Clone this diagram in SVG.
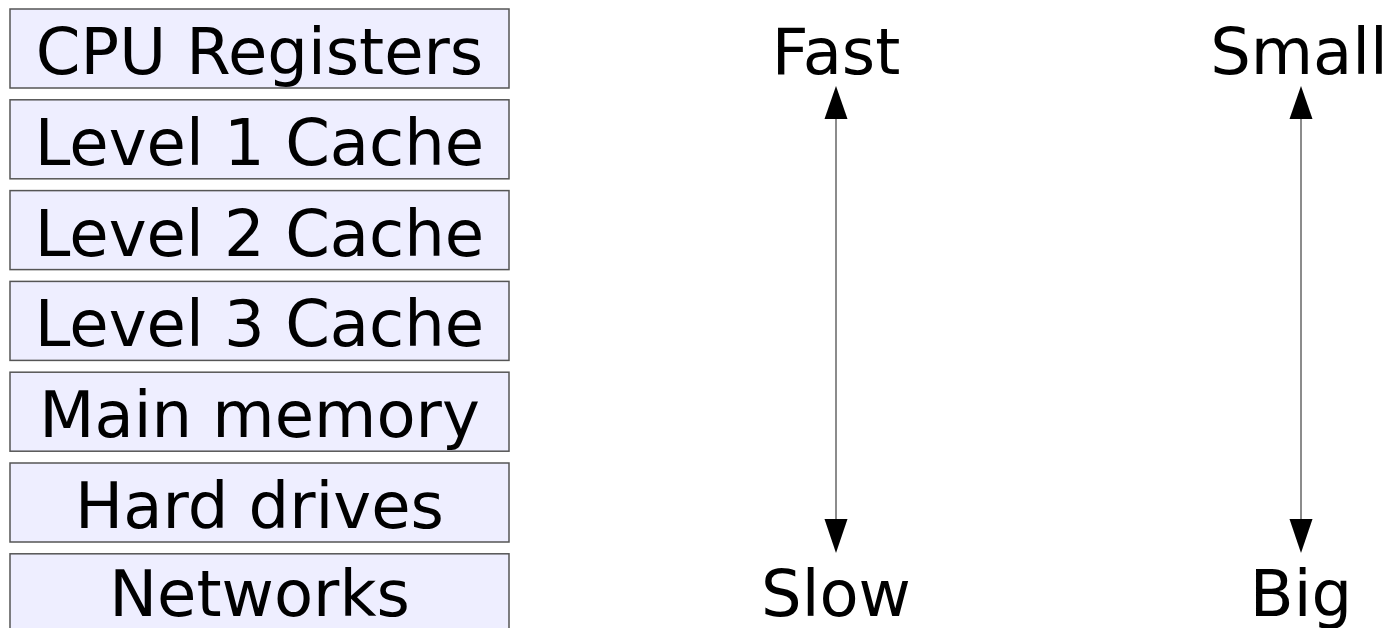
<svg xmlns="http://www.w3.org/2000/svg" width="1390" height="628" viewBox="0 0 1390 628">
  <style>
    .box { fill: #eeeeff; stroke: #555555; stroke-width: 1.5; }
    .lbl { font-family: "DejaVu Sans", Verdana, sans-serif; font-size: 64px; fill: #000000; text-anchor: middle; }
    .axis { stroke: #666666; stroke-width: 1.5; fill: none; }
    .head { fill: #000000; }
  </style>

  <!-- memory hierarchy, fastest level on top -->
  <g id="cpu-registers">
    <rect class="box" x="10" y="9" width="499" height="79"/>
    <text class="lbl" x="259.5" y="74">CPU Registers</text>
  </g>
  <g id="level1-cache">
    <rect class="box" x="10" y="99.8" width="499" height="79"/>
    <text class="lbl" x="259.5" y="164.8">Level 1 Cache</text>
  </g>
  <g id="level2-cache">
    <rect class="box" x="10" y="190.6" width="499" height="79"/>
    <text class="lbl" x="259.5" y="255.6">Level 2 Cache</text>
  </g>
  <g id="level3-cache">
    <rect class="box" x="10" y="281.4" width="499" height="79"/>
    <text class="lbl" x="259.5" y="346.4">Level 3 Cache</text>
  </g>
  <g id="main-memory">
    <rect class="box" x="10" y="372.2" width="499" height="79"/>
    <text class="lbl" x="259.5" y="437.2">Main memory</text>
  </g>
  <g id="hard-drives">
    <rect class="box" x="10" y="463" width="499" height="79"/>
    <text class="lbl" x="259.5" y="528">Hard drives</text>
  </g>
  <g id="networks">
    <rect class="box" x="10" y="553.8" width="499" height="79"/>
    <text class="lbl" x="259.5" y="616">Networks</text>
  </g>

  <!-- axis end labels -->
  <g id="speed-fast"><text class="lbl" x="836" y="74">Fast</text></g>
  <g id="speed-slow"><text class="lbl" x="836" y="616">Slow</text></g>
  <g id="size-small"><text class="lbl" x="1299" y="74">Small</text></g>
  <g id="size-big"><text class="lbl" x="1301" y="616">Big</text></g>

  <!-- double-headed axes -->
  <g id="connectors">
    <line class="axis" x1="836" y1="119" x2="836" y2="519"/>
    <line class="axis" x1="1301" y1="119" x2="1301" y2="519"/>
    <polygon class="head" points="836,86 824.5,119 847.5,119"/>
    <polygon class="head" points="836,553 824.5,519 847.5,519"/>
    <polygon class="head" points="1301,86 1289.5,119 1312.5,119"/>
    <polygon class="head" points="1301,553 1289.5,519 1312.5,519"/>
  </g>
</svg>
